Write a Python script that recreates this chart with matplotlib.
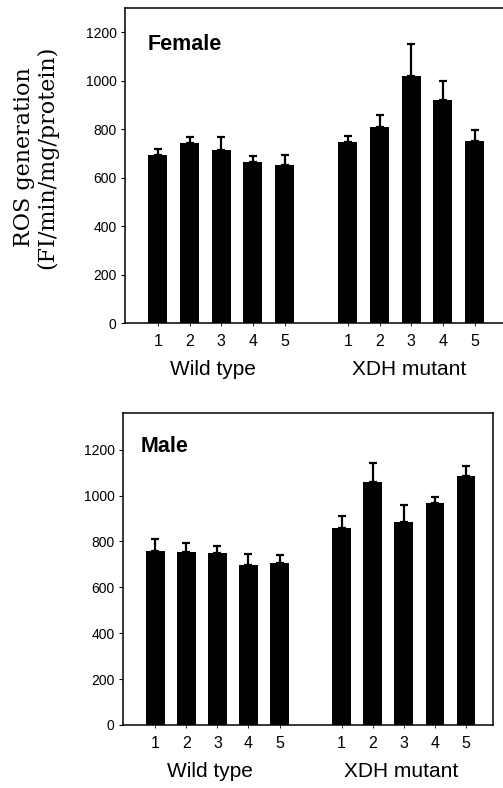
import numpy as np
import matplotlib
matplotlib.use('Agg')
import matplotlib.pyplot as plt

plt.rcParams['font.family'] = ['Liberation Sans', 'DejaVu Sans']

strains = ['1', '2', '3', '4', '5']
groups = ['Wild type', 'XDH mutant']

female_wt = [693, 741, 715, 663, 653]
female_wt_err = [27, 26, 52, 26, 40]
female_xdh = [745, 810, 1021, 922, 749]
female_xdh_err = [26, 48, 131, 76, 47]

male_wt = [759, 755, 749, 697, 705]
male_wt_err = [52, 40, 29, 49, 37]
male_xdh = [860, 1057, 884, 969, 1084]
male_xdh_err = [52, 83, 76, 23, 46]

yticks = [0, 200, 400, 600, 800, 1000, 1200]

x = np.r_[np.arange(5), np.arange(6, 11)]

fig = plt.figure(figsize=(5.03, 7.88), dpi=100)
ax1 = fig.add_axes([0.2485, 0.590, 0.7515, 0.400])
ax2 = fig.add_axes([0.2445, 0.080, 0.7355, 0.396])


def panel(ax, wt, wt_err, xdh, xdh_err, title, ymax, xmax, title_pos, group_x, group_y):
    vals = np.r_[wt, xdh]
    errs = np.r_[wt_err, xdh_err]
    ax.bar(x, vals, width=0.6, color='black', zorder=2)
    ax.errorbar(x, vals, yerr=[np.zeros_like(errs), errs], fmt='none',
                ecolor='black', elinewidth=1.6, capsize=2.6, capthick=1.6, zorder=1)
    ax.set_ylim(0, ymax)
    ax.set_xlim(-1.04, xmax)
    ax.set_yticks(yticks)
    ax.set_xticks(x)
    ax.set_xticklabels(strains * 2)
    ax.tick_params(axis='y', length=3, width=0.8, labelsize=10, pad=3)
    ax.tick_params(axis='x', length=2, width=0.6, labelsize=11.5, pad=6)
    for s in ax.spines.values():
        s.set_linewidth(1.1)
    ax.text(title_pos[0], title_pos[1], title, transform=ax.transAxes,
            fontsize=15.5, fontweight='bold', va='baseline', ha='left')
    for g, gx in zip(groups, group_x):
        ax.text(gx, group_y, g, transform=ax.get_xaxis_transform(),
                ha='center', va='top', fontsize=15)


panel(ax1, female_wt, female_wt_err, female_xdh, female_xdh_err, 'Female',
      1300, 10.9, (0.061, 0.867), (1.73, 7.95), -0.117)
ax1.spines['right'].set_visible(False)

panel(ax2, male_wt, male_wt_err, male_xdh, male_xdh_err, 'Male',
      1360, 10.87, (0.048, 0.876), (1.75, 7.9), -0.12)

fig.text(0.071, 0.80, 'ROS generation\n(FI/min/mg/protein)', rotation=90,
         ha='center', va='center', family='DejaVu Serif', fontsize=16,
         linespacing=1.1)

fig.savefig('out.png', dpi=100)
